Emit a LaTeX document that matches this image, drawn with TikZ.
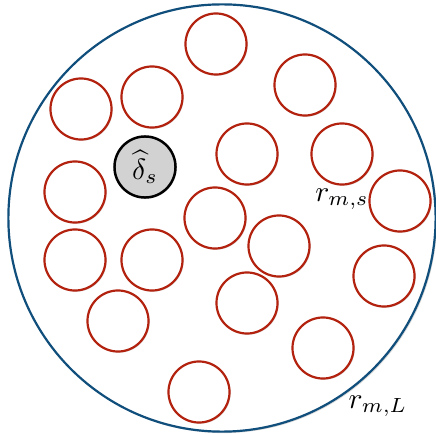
\documentclass[tikz,border=0pt]{standalone}
\usepackage{xcolor}
\usepackage{tikz}
\usepackage{amsmath}
\usetikzlibrary{shadows}

\definecolor{diskred}{RGB}{178,34,14}
\definecolor{rimblue}{RGB}{16,78,124}

\begin{document}
\begin{tikzpicture}[
  x=0.012cm, y=-0.012cm,
  region/.style={draw=rimblue, circle, line width=0.75pt, fill=white,
    minimum size=5.124cm, inner sep=0pt,
    drop shadow={opacity=0.3, shadow xshift=0.5pt, shadow yshift=-0.5pt}},
  disk/.style={draw=diskred, circle, line width=0.75pt, fill=white,
    minimum size=0.732cm, inner sep=0pt,
    drop shadow={opacity=0.25, shadow xshift=0.4pt, shadow yshift=-0.4pt}},
  seed/.style={disk, draw=black, fill=gray!35, line width=0.85pt},
  lbl/.style={inner sep=0pt}
]
\useasboundingbox (0,0) rectangle (436,434);
\node[region] (big) at (222,218) {};
\foreach \px/\py [count=\i] in {216/44, 305/85, 81/109, 152/97, 247/154,
    342/154, 400/201, 75/192, 215/218, 279/246, 75/260, 152/260,
    384/276, 247/303, 118/321, 323/348, 199/392}
  \node[disk] (d\i) at (\px,\py) {};
\node[seed] (ds) at (145,167) {$\widehat{\delta}_s$};
\node[lbl] (rs) at (342,199) {$r_{m,s}$};
\node[lbl] (rl) at (378,406) {$r_{m,L}$};
\end{tikzpicture}
\end{document}
